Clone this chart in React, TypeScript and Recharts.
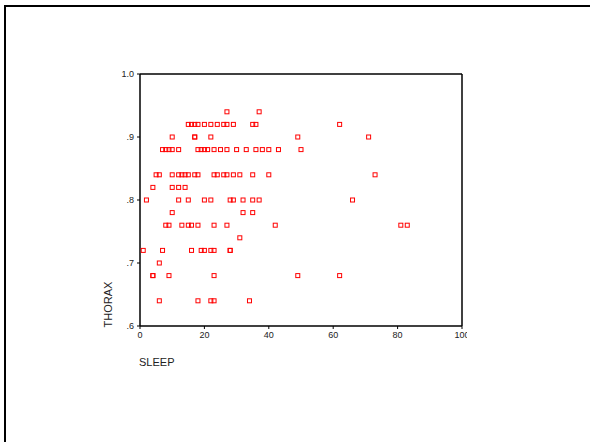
import React from "react";
import { ScatterChart, Scatter, XAxis, YAxis, ReferenceLine } from "recharts";

// thorax length levels, and the sleep values observed at each level
const thoraxLevels = [0.94, 0.92, 0.9, 0.88, 0.84, 0.82, 0.8, 0.78, 0.76, 0.74, 0.72, 0.7, 0.68, 0.64];
const sleepByLevel = [
    [27, 37],
    [15, 16, 17, 18, 20, 22, 24, 26, 27, 29, 35, 36, 62],
    [10, 17, 17, 22, 49, 71],
    [7, 8, 9, 10, 12, 18, 19, 20, 21, 23, 25, 27, 30, 33, 36, 38, 40, 43, 50],
    [5, 6, 10, 12, 13, 14, 15, 17, 18, 23, 24, 26, 27, 29, 31, 35, 40, 73],
    [4, 10, 12, 14],
    [2, 12, 15, 20, 22, 28, 29, 32, 35, 37, 66],
    [10, 32, 35],
    [8, 9, 13, 15, 16, 18, 23, 27, 42, 81, 83],
    [31],
    [1, 7, 16, 19, 20, 22, 23, 28, 28],
    [6],
    [4, 4, 9, 23, 49, 62],
    [6, 18, 22, 23, 34],
];

const xTicks = [0, 20, 40, 60, 80, 100];
const yTicks = [0.6, 0.7, 0.8, 0.9, 1.0];

const points = thoraxLevels.flatMap((t, i) => sleepByLevel[i].map((s) => ({ sleep: s, thorax: t })));

const FONT = "'Liberation Sans', Arial, sans-serif";

const formatY = (v: number) => (v >= 1 ? "1.0" : "." + Math.round(v * 10));

// hollow red square marker
const SquareDot = (props: any) => {
    const { cx, cy } = props;
    if (cx == null || cy == null) return null;
    return <rect x={cx - 2} y={cy - 2} width={4} height={4} fill="none" stroke="#ff0000" strokeWidth={1} />;
};

const XTick = (props: any) => {
    const { x, y, payload } = props;
    const last = payload.value === 100;
    return (
        <g>
            {last && (
                <defs>
                    <clipPath id="lastTickClip">
                        <rect x={x - 12} y={y - 2} width={17} height={16} />
                    </clipPath>
                </defs>
            )}
            <text
                x={x}
                y={y}
                dy="0.71em"
                textAnchor="middle"
                fontSize={9}
                fontFamily={FONT}
                fill="#222"
                clipPath={last ? "url(#lastTickClip)" : undefined}
            >
                {payload.value}
            </text>
        </g>
    );
};

export default function App() {
    return (
        <div style={{ position: "absolute", left: 0, top: 0, width: 590, height: 442, background: "#fff" }}>
            <div
                style={{
                    position: "absolute",
                    left: 4,
                    top: 5,
                    right: 0,
                    bottom: 0,
                    borderTop: "2px solid #000",
                    borderLeft: "2px solid #000",
                }}
            />
            <ScatterChart
                width={590}
                height={442}
                margin={{ top: 74, right: 128, bottom: 96, left: 100 }}
                style={{ position: "absolute", left: 0, top: 0 }}
            >
                <XAxis
                    type="number"
                    dataKey="sleep"
                    domain={[0, 100]}
                    ticks={xTicks}
                    height={20}
                    tickSize={3}
                    tickMargin={3}
                    tick={<XTick />}
                    axisLine={{ stroke: "#000", strokeWidth: 1.5 }}
                    tickLine={{ stroke: "#000" }}
                    label={{
                        content: () => (
                            <text x={139} y={366} fontSize={11} fontFamily={FONT} fill="#222">
                                SLEEP
                            </text>
                        ),
                    }}
                />
                <YAxis
                    type="number"
                    dataKey="thorax"
                    domain={[0.6, 1.0]}
                    ticks={yTicks}
                    width={40}
                    tickSize={3}
                    tickMargin={3}
                    tickFormatter={formatY}
                    tick={{ fontSize: 9, fontFamily: FONT, fill: "#222" }}
                    axisLine={{ stroke: "#000", strokeWidth: 1.5 }}
                    tickLine={{ stroke: "#000" }}
                    label={{
                        content: () => (
                            <text
                                x={112}
                                y={304.5}
                                transform="rotate(-90 112 304.5)"
                                textAnchor="middle"
                                fontSize={11}
                                fontFamily={FONT}
                                fill="#222"
                            >
                                THORAX
                            </text>
                        ),
                    }}
                />
                <ReferenceLine y={1.0} stroke="#000" strokeWidth={1.5} />
                <ReferenceLine x={100} stroke="#000" strokeWidth={1.5} />
                <Scatter data={points} shape={<SquareDot />} isAnimationActive={false} />
            </ScatterChart>
        </div>
    );
}
